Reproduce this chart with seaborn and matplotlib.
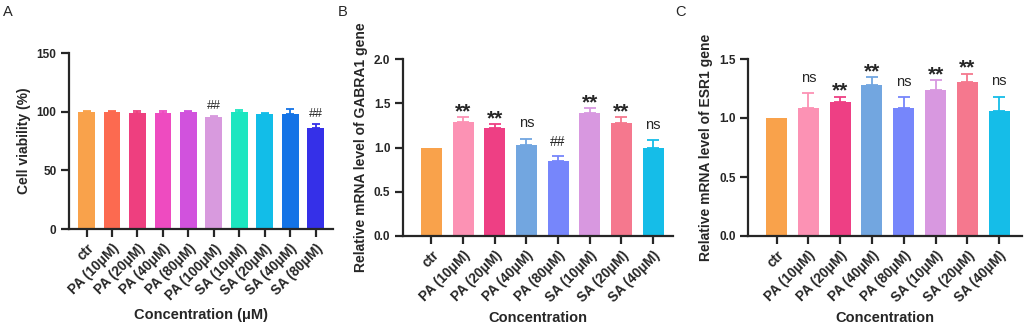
import numpy as np
import pandas as pd
import seaborn as sns
import matplotlib

matplotlib.use('Agg')
import matplotlib.pyplot as plt

# 数据
groups_a = ['ctr', 'PA (10μM)', 'PA (20μM)', 'PA (40μM)', 'PA (80μM)', 'PA (100μM)',
            'SA (10μM)', 'SA (20μM)', 'SA (40μM)', 'SA (80μM)']
viability = [100.0, 99.3, 99.0, 98.8, 99.4, 95.3, 99.3, 98.3, 98.0, 85.8]
viability_err = [0.8, 1.5, 1.2, 2.0, 0.9, 0.6, 2.1, 0.9, 4.0, 3.8]
marks_a = ['', '', '', '', '', '##', '', '', '', '##']
colors_a = ['#F9A24B', '#FC6A50', '#EE3F7F', '#EE4BC0', '#D152DD', '#D89ADE',
            '#1CE6C0', '#12BDE8', '#1473E6', '#3530E8']

groups_bc = ['ctr', 'PA (10μM)', 'PA (20μM)', 'PA (40μM)', 'PA (80μM)',
             'SA (10μM)', 'SA (20μM)', 'SA (40μM)']
gabra1 = [1.00, 1.29, 1.22, 1.03, 0.85, 1.395, 1.28, 1.00]
gabra1_err = [0.0, 0.05, 0.045, 0.07, 0.05, 0.05, 0.064, 0.08]
marks_b = ['', '**', '**', 'ns', '##', '**', '**', 'ns']

esr1 = [1.00, 1.085, 1.136, 1.278, 1.082, 1.235, 1.309, 1.06]
esr1_err = [0.0, 0.125, 0.045, 0.068, 0.094, 0.085, 0.068, 0.12]
marks_c = ['', 'ns', '**', '**', 'ns', '**', '**', 'ns']

colors_bc = ['#F9A24B', '#FC92B4', '#EE3F84', '#72A6E0', '#7686FB',
             '#D898E0', '#F5788E', '#15BDE8']

sns.set_style('ticks')
plt.rcParams['font.family'] = ['Liberation Sans', 'DejaVu Sans']
plt.rcParams['axes.linewidth'] = 1.6


def panel(ax, groups, vals, errs, marks, colors, ylim, yticks, ylabel, xlabel,
          xlim, capsize, hash_fs, hash_off):
    df = pd.DataFrame({'group': groups, 'value': vals})
    sns.barplot(data=df, x='group', y='value', hue='group', palette=colors,
                legend=False, width=0.66, saturation=1, linewidth=0, ax=ax)
    for i, (v, e, c) in enumerate(zip(vals, errs, colors)):
        if e > 0:
            ax.errorbar(i, v, yerr=[[0], [e]], fmt='none', ecolor=c,
                        elinewidth=1.3, capsize=capsize, capthick=1.3, zorder=1)
    # 显著性标记
    for i, (v, e, m) in enumerate(zip(vals, errs, marks)):
        if m == '**':
            ax.annotate(m, (i, v + e), xytext=(0, -3), textcoords='offset points',
                        ha='center', va='bottom', fontsize=15, fontweight='bold')
        elif m == 'ns':
            ax.annotate(m, (i, v + e), xytext=(0, 6), textcoords='offset points',
                        ha='center', va='bottom', fontsize=10.5)
        elif m == '##':
            ax.annotate(m, (i, v + e), xytext=(0, hash_off), textcoords='offset points',
                        ha='center', va='bottom', fontsize=hash_fs)
    ax.set_ylim(*ylim)
    ax.set_yticks(yticks)
    ax.set_xlim(*xlim)
    sns.despine(ax=ax)
    ax.tick_params(axis='both', length=5.5, width=1.6, labelsize=8.5)
    for t in ax.get_yticklabels():
        t.set_fontweight('bold')
    ax.set_xticks(range(len(groups)))
    ax.set_xticklabels(groups, rotation=45, ha='right', rotation_mode='anchor',
                       fontweight='bold', fontsize=9.8)
    ax.set_ylabel(ylabel, fontweight='bold', fontsize=10)
    ax.set_xlabel(xlabel, fontweight='bold', fontsize=10.5, labelpad=4)


fig = plt.figure(figsize=(10.24, 3.26), dpi=100)
ax_a = fig.add_axes([69 / 1024, 1 - 229 / 326, (333 - 69) / 1024, 176 / 326])
ax_b = fig.add_axes([403 / 1024, 1 - 236 / 326, (673 - 403) / 1024, 177 / 326])
ax_c = fig.add_axes([748 / 1024, 1 - 236 / 326, (1022 - 748) / 1024, 177 / 326])

panel(ax_a, groups_a, viability, viability_err, marks_a, colors_a, (0, 150),
      [0, 50, 100, 150], 'Cell viability (%)', 'Concentration (μM)',
      (-0.69, 9.68), 3, 9, 3)
panel(ax_b, groups_bc, gabra1, gabra1_err, marks_b, colors_bc, (0, 2.0),
      [0, 0.5, 1.0, 1.5, 2.0], 'Relative mRNA level of GABRA1 gene', 'Concentration',
      (-0.9, 7.63), 4, 10, 5)
panel(ax_c, groups_bc, esr1, esr1_err, marks_c, colors_bc, (0, 1.5),
      [0, 0.5, 1.0, 1.5], 'Relative mRNA level of ESR1 gene', 'Concentration',
      (-0.9, 7.72), 4, 10, 5)
for a in (ax_b, ax_c):
    a.yaxis.set_major_formatter(matplotlib.ticker.FormatStrFormatter('%.1f'))

fig.text(0.003, 0.952, 'A', fontsize=10.5)
fig.text(0.330, 0.952, 'B', fontsize=10.5)
fig.text(0.659, 0.952, 'C', fontsize=10.5)

fig.savefig('out.png', dpi=100)
